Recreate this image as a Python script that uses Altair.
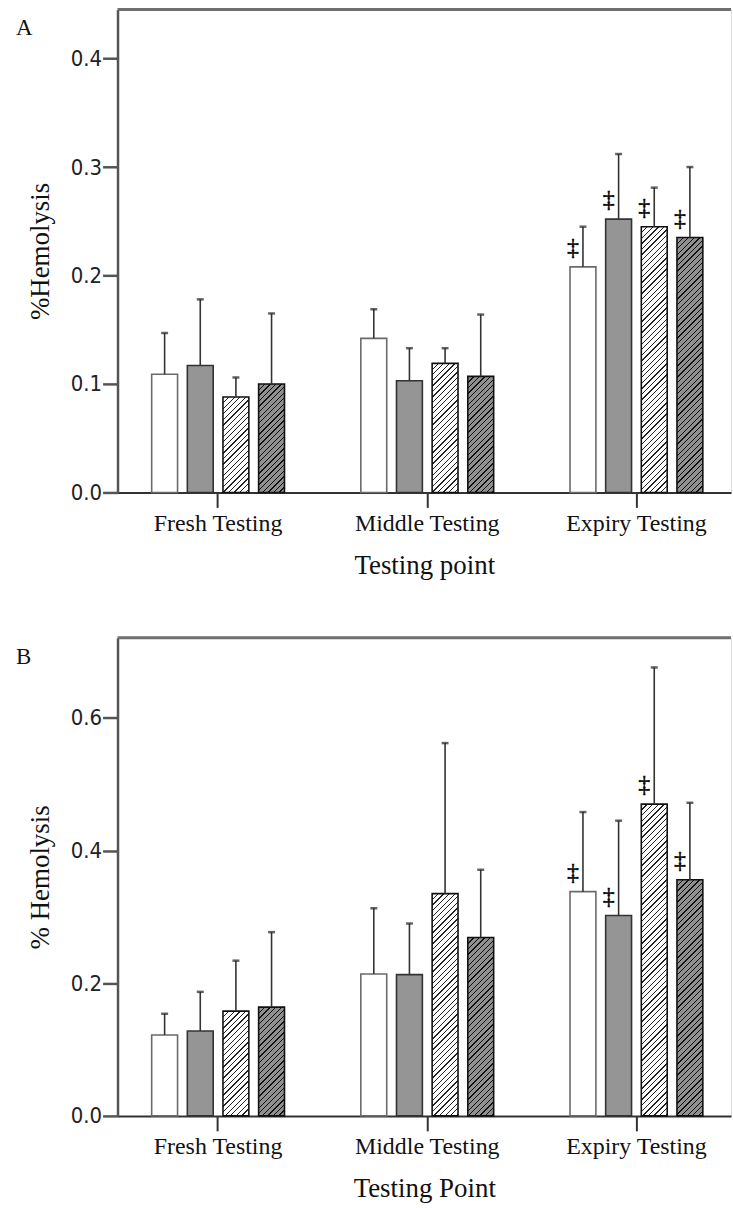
import altair as alt

# ---------------- data ----------------
groups = ["Fresh Testing", "Middle Testing", "Expiry Testing"]
series = ["Group 1", "Group 2", "Group 3", "Group 4"]

# Panel A: mean %hemolysis and top of error bar
a_mean = [[0.109, 0.117, 0.088, 0.100],
          [0.142, 0.103, 0.119, 0.107],
          [0.208, 0.252, 0.245, 0.235]]
a_upper = [[0.147, 0.178, 0.106, 0.165],
           [0.169, 0.133, 0.133, 0.164],
           [0.245, 0.312, 0.281, 0.300]]
a_sig = [[False, False, False, False],
         [False, False, False, False],
         [True, True, True, True]]

# Panel B
b_mean = [[0.122, 0.128, 0.158, 0.164],
          [0.214, 0.213, 0.335, 0.269],
          [0.338, 0.302, 0.470, 0.356]]
b_upper = [[0.154, 0.187, 0.234, 0.277],
           [0.313, 0.290, 0.562, 0.371],
           [0.458, 0.445, 0.676, 0.472]]
b_sig = [[False, False, False, False],
         [False, False, False, False],
         [True, True, True, True]]

a_ticks = [0.0, 0.1, 0.2, 0.3, 0.4]
b_ticks = [0.0, 0.2, 0.4, 0.6]

# ---------------- styling ----------------
W = 616
PAD_IN, PAD_OUT, ALIGN = 0.365, 0.149, 0.548
SUB_PAD = 0.274
SERIF = "Liberation Serif"
SANS_C = "DejaVu Sans Condensed, Liberation Sans Narrow, DejaVu Sans"

step = W / (3 - PAD_IN + 2 * PAD_OUT)
band = step * (1 - PAD_IN)
bar_w = band / (4 - SUB_PAD) * (1 - SUB_PAD)

styles = [
    {"fill": "#ffffff", "stroke": "#6a6a6a", "hatch": None},
    {"fill": "#959595", "stroke": "#333333", "hatch": None},
    {"fill": "#ffffff", "stroke": "#111111", "hatch": "#222222"},
    {"fill": "#909090", "stroke": "#111111", "hatch": "#111111"},
]


def hatch_fill(h_px, bg, fg, period=5.6, lw=1.3):
    w = bar_w
    L = w + h_px
    c = L / (w * w + h_px * h_px)
    stops = []
    s = 0.0
    while s < L:
        a = min(s / L, 1.0)
        b = min((s + lw) / L, 1.0)
        e = min((s + period) / L, 1.0)
        stops += [{"offset": a, "color": fg}, {"offset": b, "color": fg},
                  {"offset": b, "color": bg}, {"offset": e, "color": bg}]
        s += period
    return {"gradient": "linear", "x1": 0, "y1": 0, "x2": c * w, "y2": c * h_px,
            "stops": stops}


def records(means, uppers, sigs, dmax, height):
    out = []
    for gi, g in enumerate(groups):
        for si, s in enumerate(series):
            st = styles[si]
            v = means[gi][si]
            if st["hatch"]:
                fill = hatch_fill(v / dmax * height, st["fill"], st["hatch"])
            else:
                fill = st["fill"]
            out.append({"group": g, "series": s, "mean": v,
                        "upper": uppers[gi][si], "sig": sigs[gi][si],
                        "fillv": fill, "strokev": st["stroke"]})
    return out


def panel(letter, means, uppers, sigs, dmax, height, ticks, ytitle, xtitle):
    data = alt.Data(values=records(means, uppers, sigs, dmax, height))
    xscale = alt.Scale(domain=groups, paddingInner=PAD_IN, paddingOuter=PAD_OUT,
                       align=ALIGN)
    xoff = alt.XOffset("series:N", sort=series,
                       scale=alt.Scale(domain=series, paddingInner=SUB_PAD,
                                       paddingOuter=0))
    yscale = alt.Scale(domain=[0, dmax], nice=False, zero=True)
    xaxis = alt.Axis(title=xtitle, labelAngle=0, labelFont=SERIF, labelFontSize=24,
                     labelColor="#111111", labelPadding=4, tickSize=15, tickWidth=2,
                     tickColor="#333333", domainColor="#333333", domainWidth=2,
                     titleFont=SERIF, titleFontSize=27, titleFontWeight="normal",
                     titleColor="#111111", titlePadding=17)
    yaxis = alt.Axis(values=ticks, format=".1f", title=ytitle, grid=False,
                     labelFont=SANS_C, labelFontSize=22, labelColor="#222222",
                     labelPadding=1, tickSize=15, tickWidth=2.5, tickColor="#555555",
                     domainColor="#555555", domainWidth=2.5,
                     titleFont=SERIF, titleFontSize=27, titleFontWeight="normal",
                     titleColor="#111111", titlePadding=16)

    x = alt.X("group:N", sort=groups, scale=xscale, axis=xaxis)
    y = alt.Y("mean:Q", scale=yscale, axis=yaxis)

    base = alt.Chart(data)
    bars = base.mark_bar(strokeWidth=1.6, aria=False).encode(
        x=x, xOffset=xoff, y=y,
        fill=alt.Fill("fillv:N", scale=None, legend=None),
        stroke=alt.Stroke("strokev:N", scale=None, legend=None),
    )
    err = base.mark_rule(color="#333333", strokeWidth=1.6).encode(
        x=x, xOffset=xoff, y=alt.Y("mean:Q", scale=yscale, axis=yaxis), y2="upper:Q")
    caps = base.mark_tick(color="#222222", thickness=2.5, size=7,
                          orient="horizontal").encode(
        x=x, xOffset=xoff, y=alt.Y("upper:Q", scale=yscale, axis=yaxis))
    dag = base.mark_text(text="\u2021", font=SERIF, fontSize=24, dx=-10, dy=-12,
                         baseline="alphabetic", align="center",
                         fill="#000000", stroke="#000000",
                         strokeWidth=0.4).transform_filter(
        alt.datum.sig == True).encode(
        x=x, xOffset=xoff, y=alt.Y("mean:Q", scale=yscale, axis=yaxis))

    one = alt.Data(values=[{"k": 1}])
    border = alt.Chart(one).mark_rule(color="#707070", strokeWidth=3).encode(
        x=alt.value(0), x2=alt.value(W), y=alt.value(0))
    lab = alt.Chart(one).mark_text(text=letter, font=SERIF, fontSize=23,
                                   align="left", baseline="alphabetic",
                                   color="#111111").encode(
        x=alt.value(-102), y=alt.value(26))

    return alt.layer(bars, err, caps, dag, border, lab).properties(
        width=W, height=height)


top = panel("A", a_mean, a_upper, a_sig, 0.4453, 485, a_ticks,
            "%Hemolysis", "Testing point")
bottom = panel("B", b_mean, b_upper, b_sig, 0.7206, 480, b_ticks,
               "% Hemolysis", "Testing Point")

chart = alt.vconcat(top, bottom, spacing=57).properties(
    padding={"left": 15, "top": 5, "right": 0, "bottom": 0}
).configure_view(stroke=None).configure(background="white")

chart.save("out.html", embed_options={"renderer": "svg", "actions": False})
